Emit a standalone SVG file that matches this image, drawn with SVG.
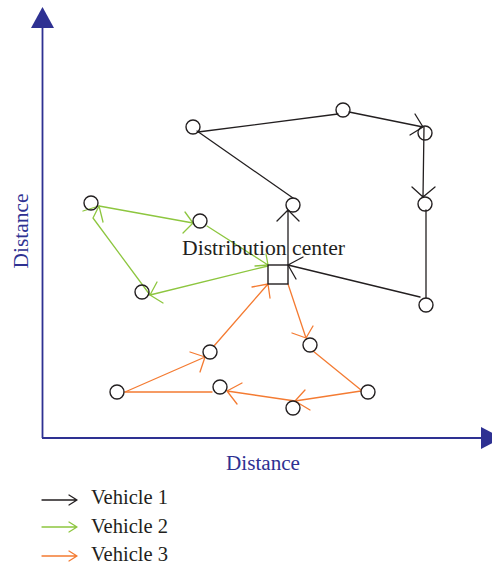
<svg xmlns="http://www.w3.org/2000/svg" width="492" height="566" viewBox="0 0 492 566">
<style>
.node{fill:none;stroke:#231f20;stroke-width:1.4}
.v1{fill:none;stroke:#231f20;stroke-width:1.3;stroke-linecap:round;stroke-linejoin:round}
.v2{fill:none;stroke:#8dc63f;stroke-width:1.3;stroke-linecap:round;stroke-linejoin:round}
.v3{fill:none;stroke:#f47b32;stroke-width:1.3;stroke-linecap:round;stroke-linejoin:round}
.axis{stroke:#2e3192;stroke-width:1.8;fill:none}
.ahead{fill:#2e3192;stroke:none}
.lbl{font-family:"Liberation Serif","Times New Roman",serif;font-size:20px;fill:#2e3192}
.txt{font-family:"Liberation Serif","Times New Roman",serif;font-size:20px;fill:#231f20}
</style>
<rect width="492" height="566" fill="#ffffff"/>
<g id="axes">
<line class="axis" x1="42.5" y1="438" x2="42.5" y2="27"/>
<polygon class="ahead" points="42.5,7 31,28 54,28"/>
<line class="axis" x1="42" y1="438" x2="482" y2="438"/>
<polygon class="ahead" points="502,438 481,427 481,449"/>
<text class="lbl" x="226" y="470" textLength="74" lengthAdjust="spacingAndGlyphs">Distance</text>
<text class="lbl" transform="translate(28,231) rotate(-90)" x="0" y="0" text-anchor="middle" textLength="75" lengthAdjust="spacingAndGlyphs">Distance</text>
</g>
<g id="connectors">
<!-- Vehicle 1 -->
<path class="v1" d="M288,265 L288,211 M277,221 L288,210 L299,221"/>
<path class="v1" d="M293,198 L197,131"/>
<path class="v1" d="M198,132 L338,114"/>
<path class="v1" d="M349,112 L423,127 M415,114 L423,127 L410,135"/>
<path class="v1" d="M424,127 L423,197 M412,187 L423,197 L435,187"/>
<path class="v1" d="M426,210 L426,298"/>
<path class="v1" d="M420,297 L288,265 M303,257 L288,265 L296,279"/>
<!-- Vehicle 2 -->
<path class="v2" d="M268,266 L150,295 M157,282 L150,295 L163,303"/>
<path class="v2" d="M150,295 L93,218 L99,206 M83,211 L99,206 L103,222"/>
<path class="v2" d="M99,206 L193,223 M185,212 L193,223 L183,233"/>
<path class="v2" d="M207,226 L268,265 M266,254 L268,265 L255,266"/>
<!-- Vehicle 3 -->
<path class="v3" d="M214,346 L268,284 M252,287 L268,284 L270,298"/>
<path class="v3" d="M288,284 L306,338 M292,333 L306,338 L313,326"/>
<path class="v3" d="M313,351 L361,390"/>
<path class="v3" d="M361,391 L295,401 M305,390 L295,401 L310,410"/>
<path class="v3" d="M295,401 L227,391 M242,383 L227,391 L237,404"/>
<path class="v3" d="M212,392 L125,392"/>
<path class="v3" d="M125,392 L205,357 M190,352 L205,357 L200,372"/>
</g>
<g id="depot">
<rect class="node" x="268" y="265" width="20" height="19" stroke-width="1.6"/>
<text class="txt" x="182" y="255" textLength="163" lengthAdjust="spacingAndGlyphs">Distribution center</text>
</g>
<g id="n1"><circle class="node" cx="193" cy="127" r="7"/></g>
<g id="n2"><circle class="node" cx="343" cy="110" r="7"/></g>
<g id="n3"><circle class="node" cx="425" cy="133" r="7"/></g>
<g id="n4"><circle class="node" cx="425" cy="204" r="7"/></g>
<g id="n5"><circle class="node" cx="426" cy="305" r="7"/></g>
<g id="n6"><circle class="node" cx="293" cy="205" r="7"/></g>
<g id="n7"><circle class="node" cx="91" cy="203" r="7"/></g>
<g id="n8"><circle class="node" cx="200" cy="221" r="7"/></g>
<g id="n9"><circle class="node" cx="142" cy="292" r="7"/></g>
<g id="n10"><circle class="node" cx="210" cy="352" r="7"/></g>
<g id="n11"><circle class="node" cx="310" cy="345" r="7"/></g>
<g id="n12"><circle class="node" cx="117" cy="392" r="7"/></g>
<g id="n13"><circle class="node" cx="220" cy="387" r="7"/></g>
<g id="n14"><circle class="node" cx="293" cy="408" r="7"/></g>
<g id="n15"><circle class="node" cx="368" cy="392" r="7"/></g>
<g id="legend">
<path class="v1" d="M42,500 L77,500 M69,495 L77,500 L69,505"/>
<path class="v2" d="M42,527 L77,527 M69,522 L77,527 L69,532"/>
<path class="v3" d="M42,556 L77,556 M69,551 L77,556 L69,561"/>
<text class="txt" x="91" y="504" textLength="77" lengthAdjust="spacingAndGlyphs">Vehicle 1</text>
<text class="txt" x="91" y="533" textLength="77" lengthAdjust="spacingAndGlyphs">Vehicle 2</text>
<text class="txt" x="91" y="561" textLength="77" lengthAdjust="spacingAndGlyphs">Vehicle 3</text>
</g>
</svg>
